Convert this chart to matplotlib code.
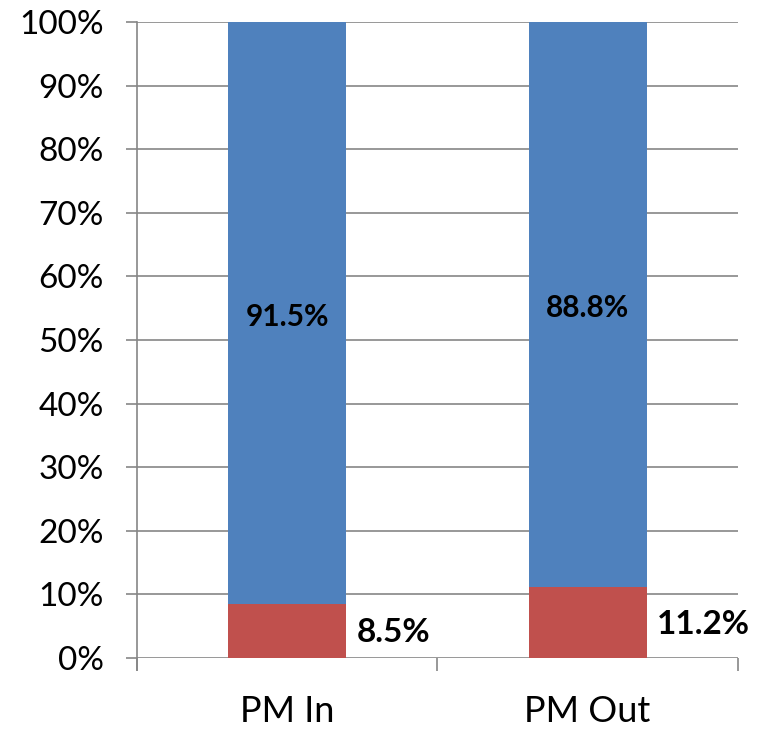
import matplotlib.pyplot as plt
import numpy as np

# Data
categories = ['PM In', 'PM Out']
blue_values = [91.5, 88.8]
red_values = [8.5, 11.2]
yticks = [0, 10, 20, 30, 40, 50, 60, 70, 80, 90, 100]

blue = '#4F81BD'
red = '#C0504D'
grid_grey = '#868686'

plt.rcParams['font.family'] = ['Lato', 'DejaVu Sans']

fig = plt.figure(figsize=(7.63, 7.31), dpi=100)
ax = fig.add_axes([0.1796, 0.0999, 0.7874, 0.8701])

x = np.arange(len(categories))
width = 0.393
ax.bar(x, red_values, width, color=red, zorder=3)
ax.bar(x, blue_values, width, bottom=red_values, color=blue, zorder=3)

# data labels
for i in range(len(categories)):
    ax.text(x[i], red_values[i] + blue_values[i] / 2 - 0.6, '%.1f%%' % blue_values[i],
            ha='center', va='center', fontsize=21.5, fontweight='bold', zorder=4)
    ax.text(x[i] + width / 2 + 0.035, red_values[i] / 2 - 0.3, '%.1f%%' % red_values[i],
            ha='left', va='center', fontsize=24, fontweight='bold', zorder=4)

ax.set_xlim(-0.5, 1.5)
ax.set_ylim(0, 100)
ax.set_yticks(yticks)
ax.set_yticklabels(['%d%%' % t for t in yticks])
ax.yaxis.grid(True, color=grid_grey, linewidth=1.2, zorder=0)

# category boundaries as major ticks, names as minor ticks
ax.set_xticks([-0.5, 0.5, 1.5])
ax.set_xticklabels([])
ax.set_xticks(x, minor=True)
ax.set_xticklabels(categories, minor=True)
ax.tick_params(axis='x', which='major', length=9, color=grid_grey, width=1.2)
ax.tick_params(axis='x', which='minor', length=0, pad=27, labelsize=26)
ax.tick_params(axis='y', length=8, color=grid_grey, width=1.2, pad=16, labelsize=24)

for side in ['top', 'right', 'bottom']:
    ax.spines[side].set_visible(False)
ax.spines['left'].set_color(grid_grey)
ax.spines['left'].set_linewidth(1.2)
ax.spines['left'].set_bounds(-1.9, 100)
ax.spines['left'].set_zorder(1)

plt.savefig('out.png', dpi=100)
